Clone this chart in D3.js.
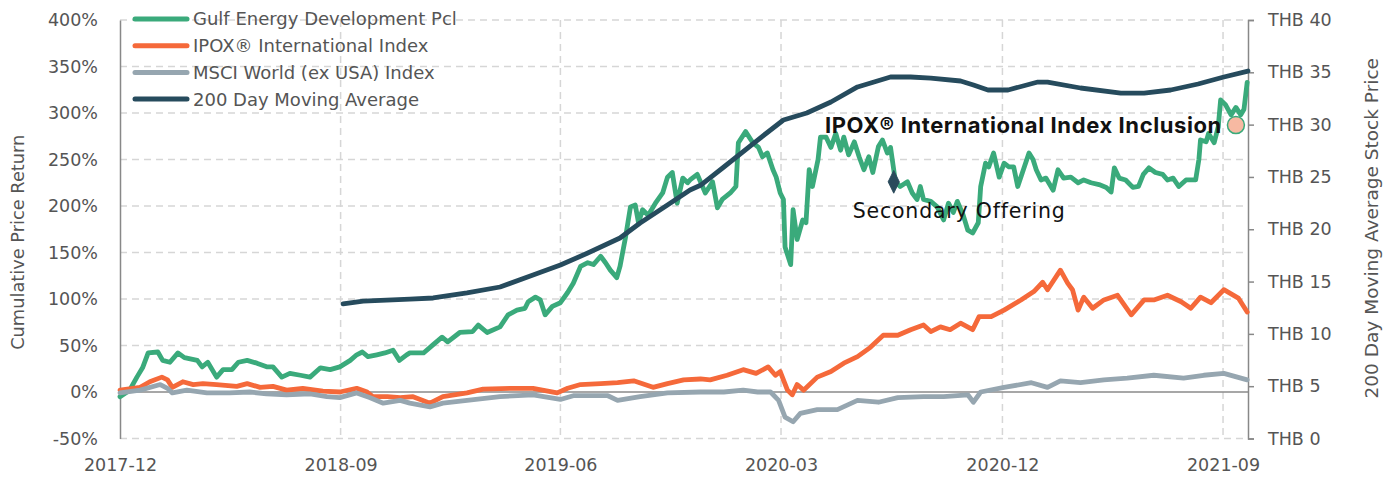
<!DOCTYPE html>
<html><head><meta charset="utf-8">
<script src="https://cdn.jsdelivr.net/npm/d3@7"></script>
<style>
body{margin:0;background:#fff;}
svg text{font-family:"DejaVu Sans",Inter,sans-serif;}
</style>
</head><body>
<svg id="chart" width="1388" height="480"></svg>
<script>
// ---------- DATA ----------
const seriesNames = ["Gulf Energy Development Pcl","IPOX® International Index","MSCI World (ex USA) Index","200 Day Moving Average"];
const xTickLabels = ["2017-12-01","2018-09-01","2019-06-01","2020-03-01","2020-12-01","2021-09-01"];
const leftTicks = [-50,0,50,100,150,200,250,300,350,400];
const rightTicks = [0,5,10,15,20,25,30,35,40];

// Gulf Energy cumulative return (%)
const gulf = [
["2017-12-01",-5],["2017-12-13",2],["2017-12-22",16],["2017-12-29",26],["2018-01-05",42],["2018-01-17",43],
["2018-01-23",34],["2018-02-01",32],["2018-02-11",42],["2018-02-19",37],["2018-03-07",34],["2018-03-13",27],
["2018-03-20",32],["2018-03-31",16],["2018-04-08",24],["2018-04-19",24],["2018-04-27",32],["2018-05-08",34],
["2018-05-20",31],["2018-06-02",27],["2018-06-09",27],["2018-06-20",16],["2018-06-30",20],["2018-07-13",18],
["2018-07-25",16],["2018-08-07",26],["2018-08-19",24],["2018-08-31",27],["2018-09-13",34],["2018-09-21",40],
["2018-09-28",43],["2018-10-05",38],["2018-10-16",40],["2018-10-26",42],["2018-11-05",45],["2018-11-13",34],
["2018-11-22",40],["2018-11-26",42],["2018-12-13",42],["2018-12-25",51],["2019-01-05",59],["2019-01-12",54],
["2019-01-27",64],["2019-02-12",65],["2019-02-19",72],["2019-03-02",64],["2019-03-18",70],["2019-03-28",83],
["2019-04-08",88],["2019-04-18",90],["2019-04-22",97],["2019-05-01",102],["2019-05-07",99],["2019-05-13",83],
["2019-05-22",92],["2019-06-01",96],["2019-06-10",107],["2019-06-17",117],["2019-06-26",135],["2019-07-05",139],
["2019-07-12",137],["2019-07-21",146],["2019-07-27",139],["2019-08-02",131],["2019-08-10",123],["2019-08-14",135],
["2019-08-21",167],["2019-08-27",199],["2019-09-02",201],["2019-09-06",182],["2019-09-11",196],["2019-09-18",190],
["2019-09-27",203],["2019-10-06",214],["2019-10-12",231],["2019-10-18",236],["2019-10-24",203],["2019-10-31",230],
["2019-11-06",225],["2019-11-09",228],["2019-11-18",234],["2019-11-28",214],["2019-12-07",226],["2019-12-13",198],
["2019-12-19",207],["2019-12-29",214],["2020-01-05",221],["2020-01-08",268],["2020-01-17",280],["2020-01-26",268],
["2020-02-02",263],["2020-02-07",253],["2020-02-13",257],["2020-02-20",239],["2020-02-24",231],["2020-02-29",214],
["2020-03-04",207],["2020-03-06",156],["2020-03-13",137],["2020-03-16",196],["2020-03-21",164],["2020-03-28",185],
["2020-04-01",182],["2020-04-05",239],["2020-04-09",221],["2020-04-16",250],["2020-04-19",274],["2020-04-26",274],
["2020-05-02",263],["2020-05-08",278],["2020-05-14",260],["2020-05-18",274],["2020-05-24",255],["2020-05-31",269],
["2020-06-06",253],["2020-06-12",239],["2020-06-18",253],["2020-06-23",236],["2020-06-30",264],["2020-07-05",271],
["2020-07-11",257],["2020-07-15",263],["2020-07-19",239],["2020-07-21",226],["2020-07-27",221],["2020-08-05",226],
["2020-08-11",214],["2020-08-17",207],["2020-08-21",221],["2020-08-25",207],["2020-09-03",205],["2020-09-11",199],
["2020-09-19",185],["2020-09-25",203],["2020-10-01",193],["2020-10-06",205],["2020-10-13",191],["2020-10-19",174],
["2020-10-25",171],["2020-11-01",182],["2020-11-04",221],["2020-11-10",246],["2020-11-14",242],["2020-11-20",257],
["2020-11-27",231],["2020-12-03",246],["2020-12-09",242],["2020-12-15",242],["2020-12-20",221],["2020-12-27",239],
["2021-01-03",257],["2021-01-08",250],["2021-01-12",239],["2021-01-18",228],["2021-01-24",230],["2021-02-02",217],
["2021-02-08",239],["2021-02-15",230],["2021-02-24",231],["2021-03-05",225],["2021-03-12",228],["2021-03-21",225],
["2021-03-31",223],["2021-04-09",220],["2021-04-15",215],["2021-04-19",241],["2021-04-25",230],["2021-05-03",228],
["2021-05-12",220],["2021-05-19",221],["2021-05-25",234],["2021-06-01",241],["2021-06-09",236],["2021-06-18",234],
["2021-06-24",228],["2021-07-01",230],["2021-07-08",221],["2021-07-17",228],["2021-07-29",228],["2021-08-02",250],
["2021-08-04",271],["2021-08-11",269],["2021-08-14",278],["2021-08-21",268],["2021-08-26",285],["2021-08-29",314],
["2021-09-04",309],["2021-09-11",298],["2021-09-17",306],["2021-09-23",298],["2021-09-27",304],["2021-10-01",333]
];

// IPOX International Index cumulative return (%)
const ipox = [
["2017-12-01",2],["2017-12-26",5],["2018-01-07",11],["2018-01-22",16],["2018-01-29",13],["2018-02-04",5],
["2018-02-17",11],["2018-03-02",8],["2018-03-14",9],["2018-03-31",8],["2018-04-25",6],["2018-05-08",9],
["2018-05-24",5],["2018-06-09",6],["2018-06-26",2],["2018-07-16",4],["2018-08-10",1],["2018-08-31",0],
["2018-09-21",4],["2018-10-04",0],["2018-10-11",-5],["2018-10-29",-5],["2018-11-14",-6],["2018-11-30",-5],
["2018-12-21",-12],["2019-01-06",-5],["2019-02-05",-1],["2019-02-25",3],["2019-03-31",4],["2019-04-28",4],
["2019-05-28",-1],["2019-06-10",4],["2019-06-26",8],["2019-07-21",9],["2019-08-11",10],["2019-08-31",12],
["2019-09-24",5],["2019-10-12",9],["2019-11-01",13],["2019-11-22",14],["2019-12-04",13],["2019-12-25",18],
["2020-01-14",24],["2020-01-30",20],["2020-02-14",27],["2020-02-23",18],["2020-02-29",22],["2020-03-09",2],
["2020-03-15",-3],["2020-03-21",8],["2020-03-29",2],["2020-04-15",16],["2020-05-02",22],["2020-05-18",31],
["2020-06-04",38],["2020-06-20",48],["2020-07-06",61],["2020-07-24",61],["2020-08-09",67],["2020-08-25",72],
["2020-09-03",65],["2020-09-15",70],["2020-09-27",67],["2020-10-10",74],["2020-10-25",67],["2020-11-02",81],
["2020-11-17",81],["2020-12-03",88],["2020-12-24",99],["2021-01-09",108],["2021-01-20",118],["2021-01-26",110],
["2021-02-11",131],["2021-02-20",117],["2021-02-26",110],["2021-03-05",88],["2021-03-12",102],["2021-03-23",90],
["2021-04-06",99],["2021-04-23",104],["2021-05-10",83],["2021-05-26",99],["2021-06-07",99],["2021-06-24",104],
["2021-07-11",97],["2021-07-23",90],["2021-08-04",102],["2021-08-17",96],["2021-09-02",110],["2021-09-20",101],
["2021-10-01",86]
];

// MSCI World (ex USA) cumulative return (%)
const msci = [
["2017-12-01",-1],["2017-12-26",2],["2018-01-20",8],["2018-01-29",4],["2018-02-04",-1],["2018-02-22",2],
["2018-03-19",-1],["2018-04-16",-1],["2018-05-11",0],["2018-06-01",-2],["2018-06-26",-3],["2018-07-25",-2],
["2018-08-15",-5],["2018-08-31",-6],["2018-09-21",-1],["2018-10-07",-6],["2018-10-24",-12],["2018-11-14",-9],
["2018-11-26",-12],["2018-12-21",-16],["2019-01-06",-12],["2019-02-05",-9],["2019-03-18",-5],["2019-04-28",-3],
["2019-06-01",-8],["2019-06-17",-4],["2019-07-30",-4],["2019-08-11",-9],["2019-09-08",-5],["2019-10-12",-1],
["2019-11-22",0],["2019-12-21",0],["2020-01-14",2],["2020-02-01",0],["2020-02-17",0],["2020-02-27",-9],
["2020-03-06",-27],["2020-03-16",-32],["2020-03-25",-23],["2020-04-15",-19],["2020-05-10",-19],["2020-06-04",-9],
["2020-06-30",-11],["2020-07-24",-6],["2020-08-25",-5],["2020-09-19",-5],["2020-10-19",-3],["2020-10-26",-11],
["2020-11-04",0],["2020-12-03",5],["2021-01-06",10],["2021-01-26",5],["2021-02-11",12],["2021-03-08",10],
["2021-04-06",13],["2021-05-05",15],["2021-06-07",18],["2021-07-14",15],["2021-08-08",18],["2021-09-02",20],
["2021-10-01",13]
];

// 200 day moving average stock price (THB)
const movingAvg = [
["2018-09-04",12.86],["2018-09-29",13.14],["2018-11-26",13.33],["2018-12-25",13.43],["2019-02-05",13.91],
["2019-03-18",14.48],["2019-04-28",15.63],["2019-06-01",16.58],["2019-07-05",17.73],["2019-08-14",19.16],
["2019-09-08",20.6],["2019-10-12",22.32],["2019-11-09",23.75],["2019-11-22",24.2],["2019-12-21",25.95],
["2020-02-01",28.53],["2020-03-04",30.44],["2020-04-02",31.11],["2020-05-02",32.16],["2020-06-04",33.6],
["2020-07-15",34.55],["2020-08-09",34.55],["2020-09-03",34.45],["2020-10-10",34.17],["2020-10-26",33.79],
["2020-11-13",33.31],["2020-12-08",33.31],["2021-01-14",34.07],["2021-01-26",34.07],["2021-03-08",33.5],
["2021-04-27",33.02],["2021-05-26",33.02],["2021-06-28",33.31],["2021-08-01",33.88],["2021-09-02",34.55],
["2021-10-02",35.12]
];

// annotations
const annotationLabels = ["Secondary Offering","IPOX® International Index Inclusion"];
const annotationPoints = [["2020-07-19",226],["2021-09-17",287]];

// ---------- DRAWING ----------
const parse = d3.timeParse("%Y-%m-%d");
const svg = d3.select("#chart");
const colors = ["#3AAA7B","#F5693A","#96A6B0","#264B5D"];
const mLeft = 120, mRight = 1248, mTop = 20, mBottom = 438.5;

const x = d3.scaleTime().domain([parse("2017-12-01"), parse("2021-10-02")]).range([mLeft, mRight]);
const yL = d3.scaleLinear().domain([-50,400]).range([mBottom, mTop]);
const yR = d3.scaleLinear().domain([0,40]).range([mBottom, mTop]);

const tickDates = xTickLabels.map(parse);

// grid
const grid = svg.append("g");
grid.selectAll("line.h").data(leftTicks.filter(d => d !== 0)).join("line")
  .attr("x1", mLeft).attr("x2", mRight).attr("y1", d => yL(d)).attr("y2", d => yL(d))
  .attr("stroke", "#d6d6d6").attr("stroke-width", 1.5).attr("stroke-dasharray", "7,5");
grid.selectAll("line.v").data(tickDates.slice(1)).join("line")
  .attr("x1", d => x(d)).attr("x2", d => x(d)).attr("y1", mTop).attr("y2", mBottom)
  .attr("stroke", "#d6d6d6").attr("stroke-width", 1.5).attr("stroke-dasharray", "7,5");
// zero line
svg.append("line").attr("x1", mLeft).attr("x2", mRight).attr("y1", yL(0)).attr("y2", yL(0))
  .attr("stroke", "#8a8a8a").attr("stroke-width", 1.5);

// axes
const fontSize = "17.5px", tickColor = "#555", fontFam = "DejaVu Sans";
const gl = svg.append("g").attr("transform", `translate(${mLeft},0)`)
  .call(d3.axisLeft(yL).tickValues(leftTicks).tickSize(0).tickPadding(22).tickFormat(d => d + "%"));
gl.select(".domain").attr("stroke", "#888").attr("stroke-width", 1.5);
gl.selectAll("text").attr("font-size", fontSize).attr("fill", tickColor).style("font-family", fontFam);

const gr = svg.append("g").attr("transform", `translate(${mRight},0)`)
  .call(d3.axisRight(yR).tickValues(rightTicks).tickSize(6).tickPadding(14).tickFormat(d => "THB " + d));
gr.select(".domain").attr("stroke", "#888").attr("stroke-width", 1.5);
gr.selectAll(".tick line").attr("stroke", "#888").attr("stroke-width", 1.5);
gr.selectAll("text").attr("font-size", fontSize).attr("fill", tickColor).style("font-family", fontFam);

const gb = svg.append("g").attr("transform", `translate(0,${mBottom})`)
  .call(d3.axisBottom(x).tickValues(tickDates).tickSize(0).tickPadding(20).tickFormat(d3.timeFormat("%Y-%m")));
gb.select(".domain").remove();
gb.selectAll("text").attr("font-size", fontSize).attr("fill", tickColor).style("font-family", fontFam);

// axis titles
svg.append("text").attr("transform", `translate(24,${(mTop+mBottom)/2 + 13}) rotate(-90)`)
  .attr("text-anchor", "middle").attr("font-size", "17.8px").attr("fill", tickColor).text("Cumulative Price Return");
svg.append("text").attr("transform", `translate(1378,${(mTop+mBottom)/2 - 1}) rotate(-90)`)
  .attr("text-anchor", "middle").attr("font-size", "18.5px").attr("fill", tickColor).text("200 Day Moving Average Stock Price");

// lines
const lineL = d3.line().x(d => x(parse(d[0]))).y(d => yL(d[1]));
const lineR = d3.line().x(d => x(parse(d[0]))).y(d => yR(d[1]));
const series = [[gulf, lineL], [ipox, lineL], [msci, lineL], [movingAvg, lineR]];
series.forEach(([data, gen], i) => {
  svg.append("path").attr("d", gen(data)).attr("fill", "none").attr("stroke", colors[i])
    .attr("stroke-width", 4.8).attr("stroke-linejoin", "round").attr("stroke-linecap", "round");
});

// legend
const lg = svg.append("g");
seriesNames.forEach((name, i) => {
  const yy = 19 + i * 26.7;
  lg.append("line").attr("x1", 135).attr("x2", 187).attr("y1", yy).attr("y2", yy)
    .attr("stroke", colors[i]).attr("stroke-width", 5).attr("stroke-linecap", "round");
  lg.append("text").attr("x", 193).attr("y", yy).attr("dy", "0.36em")
    .attr("font-size", "18px").attr("fill", tickColor).text(name);
});

// annotations
const so = annotationPoints[0], ipo = annotationPoints[1];
const sx = x(parse(so[0])), sy = yL(so[1]);
svg.append("path").attr("d", d3.symbol().type(d3.symbolDiamond).size(150)())
  .attr("transform", `translate(${sx},${sy}) scale(0.85,1)`).attr("fill", "#2A4A5B").attr("stroke", "#2A4A5B");
svg.append("text").attr("x", sx - 41).attr("y", sy + 36).attr("font-size", "20.5px")
  .attr("letter-spacing", "0.8px").attr("fill", "#111").text(annotationLabels[0]);

const ix = x(parse(ipo[0])), iy = yL(ipo[1]);
svg.append("circle").attr("cx", ix).attr("cy", iy).attr("r", 8.5)
  .attr("fill", "#F7B9A2").attr("stroke", "#3AAA7B").attr("stroke-width", 1.5);
svg.append("text").attr("x", ix - 14).attr("y", iy).attr("dy", "0.36em").attr("text-anchor", "end")
  .attr("font-size", "22px").attr("font-weight", "bold").attr("letter-spacing", "0.6px")
  .style("font-family", "Inter").attr("fill", "#111").text(annotationLabels[1]);
</script>
</body></html>
